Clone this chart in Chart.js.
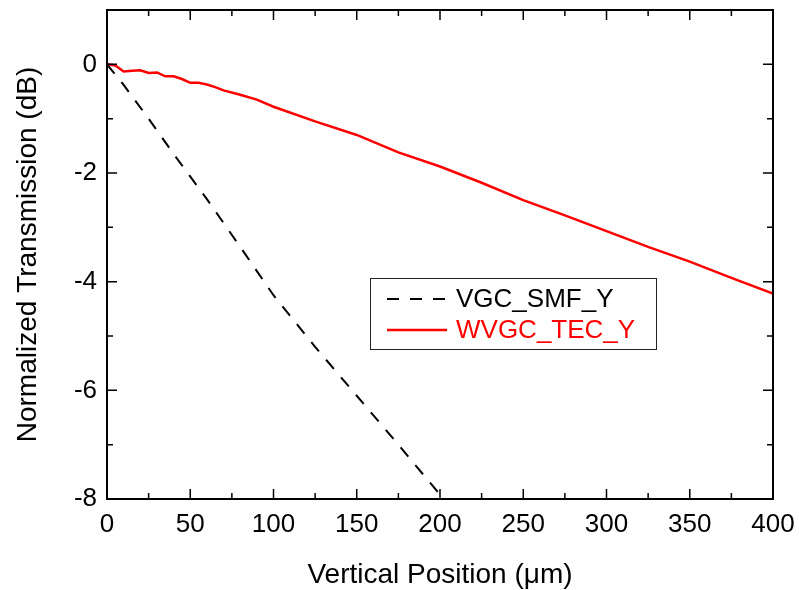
<!DOCTYPE html>
<html>
<head>
<meta charset="utf-8">
<script src="https://cdn.jsdelivr.net/npm/chart.js@4.4.1/dist/chart.umd.min.js"></script>
<style>
  html, body { margin: 0; padding: 0; background: #fff; }
  #wrap { width: 799px; height: 590px; }
</style>
</head>
<body>
<div id="wrap"><canvas id="transChart" width="799" height="590"></canvas></div>
<script>
// values
var smfX = [0, 10, 25, 40, 60, 80, 100, 125, 150, 175, 200];
var smfY = [0, -0.38, -1.0, -1.65, -2.48, -3.36, -4.25, -5.2, -6.1, -7.0, -7.92];

var tecX = [0, 5, 10, 15, 20, 25, 30, 35, 40, 45, 50, 55, 60, 65, 70, 80, 90, 100, 125, 150, 175, 200, 225, 250, 275, 300, 325, 350, 375, 400];
var tecY = [0, -0.02, -0.13, -0.12, -0.11, -0.16, -0.15, -0.22, -0.22, -0.27, -0.34, -0.34, -0.37, -0.42, -0.48, -0.56, -0.65, -0.78, -1.05, -1.30, -1.62, -1.88, -2.18, -2.50, -2.78, -3.07, -3.36, -3.63, -3.93, -4.22];

var xTicks = [0, 50, 100, 150, 200, 250, 300, 350, 400];
var xMinorTicks = [25, 75, 125, 175, 225, 275, 325, 375];
var yTicks = [-8, -6, -4, -2, 0];
var yMinorTicks = [-7, -5, -3, -1];

function toPoints(xs, ys) {
    return xs.map(function(v, i) { return {x: v, y: ys[i]}; });
}

var FONT = "'Liberation Sans', Arial, sans-serif";

// closed box with inward ticks on all four sides
var framePlugin = {
    id: 'frame',
    afterDatasetsDraw: function(chart) {
        var ctx = chart.ctx, a = chart.chartArea;
        var x = chart.scales.x, y = chart.scales.y;
        ctx.save();
        ctx.strokeStyle = '#000';
        ctx.lineWidth = 1.5;
        function tickX(list, len) {
            list.forEach(function(v) {
                var px = x.getPixelForValue(v);
                ctx.beginPath();
                ctx.moveTo(px, a.bottom); ctx.lineTo(px, a.bottom - len);
                ctx.moveTo(px, a.top); ctx.lineTo(px, a.top + len);
                ctx.stroke();
            });
        }
        function tickY(list, len) {
            list.forEach(function(v) {
                var py = y.getPixelForValue(v);
                ctx.beginPath();
                ctx.moveTo(a.left, py); ctx.lineTo(a.left + len, py);
                ctx.moveTo(a.right, py); ctx.lineTo(a.right - len, py);
                ctx.stroke();
            });
        }
        tickX(xTicks, 10); tickX(xMinorTicks, 6);
        tickY(yTicks, 10); tickY(yMinorTicks, 6);
        ctx.lineWidth = 2;
        ctx.strokeRect(a.left, a.top, a.right - a.left, a.bottom - a.top);
        ctx.restore();
    }
};

// boxed legend inside the plot
var legendPlugin = {
    id: 'boxLegend',
    afterDraw: function(chart) {
        var ctx = chart.ctx;
        var left = 370, top = 278, w = 286, h = 71;
        ctx.save();
        ctx.fillStyle = '#fff';
        ctx.fillRect(left, top, w, h);
        ctx.strokeStyle = '#222';
        ctx.lineWidth = 1;
        ctx.strokeRect(left + 0.5, top + 0.5, w, h);
        ctx.font = '26px ' + FONT;
        ctx.textBaseline = 'middle';
        chart.data.datasets.forEach(function(ds, i) {
            var cy = top + 21 + i * 31;
            ctx.strokeStyle = ds.borderColor;
            ctx.lineWidth = ds.borderWidth;
            ctx.setLineDash(ds.borderDash || []);
            ctx.beginPath();
            ctx.moveTo(left + 17, cy); ctx.lineTo(left + 77, cy);
            ctx.stroke();
            ctx.setLineDash([]);
            ctx.fillStyle = ds.labelColor;
            ctx.fillText(ds.label, left + 86, cy + 1);
        });
        ctx.restore();
    }
};

var ctx = document.getElementById('transChart');
var chart = new Chart(ctx, {
    type: 'line',
    data: {
        datasets: [{
            label: 'VGC_SMF_Y',
            data: toPoints(smfX, smfY),
            borderColor: '#000',
            labelColor: '#000',
            borderWidth: 2,
            borderDash: [12, 11],
            pointRadius: 0,
            tension: 0
        }, {
            label: 'WVGC_TEC_Y',
            data: toPoints(tecX, tecY),
            borderColor: '#ff0000',
            labelColor: '#ff0000',
            borderWidth: 2.5,
            pointRadius: 0,
            tension: 0
        }]
    },
    options: {
        responsive: false,
        animation: false,
        layout: { padding: { left: 0, right: 26, top: 10, bottom: 0 } },
        plugins: {
            legend: { display: false },
            tooltip: { enabled: false }
        },
        scales: {
            x: {
                type: 'linear',
                min: 0,
                max: 400,
                afterBuildTicks: function(s) { s.ticks = xTicks.map(function(v) { return {value: v}; }); },
                afterFit: function(s) { s.height = 91; s.paddingLeft = 0; s.paddingRight = 0; },
                grid: { display: false, drawTicks: false },
                border: { display: false },
                ticks: { color: '#000', font: { family: FONT, size: 26 }, padding: 10, maxRotation: 0 },
                title: {
                    display: true,
                    text: 'Vertical Position (\u03bcm)',
                    color: '#000',
                    font: { family: FONT, size: 28 },
                    padding: { top: 0, bottom: -2 }
                }
            },
            y: {
                min: -8,
                max: 1,
                afterBuildTicks: function(s) { s.ticks = yTicks.map(function(v) { return {value: v}; }); },
                afterFit: function(s) { s.width = 107; s.paddingTop = 0; s.paddingBottom = 0; },
                grid: { display: false, drawTicks: false },
                border: { display: false },
                ticks: { color: '#000', font: { family: FONT, size: 26 }, padding: 10 },
                title: {
                    display: true,
                    text: 'Normalized Transmission (dB)',
                    color: '#000',
                    font: { family: FONT, size: 28 },
                    padding: { top: 11, bottom: 0 }
                }
            }
        }
    },
    plugins: [framePlugin, legendPlugin]
});
</script>
</body>
</html>
